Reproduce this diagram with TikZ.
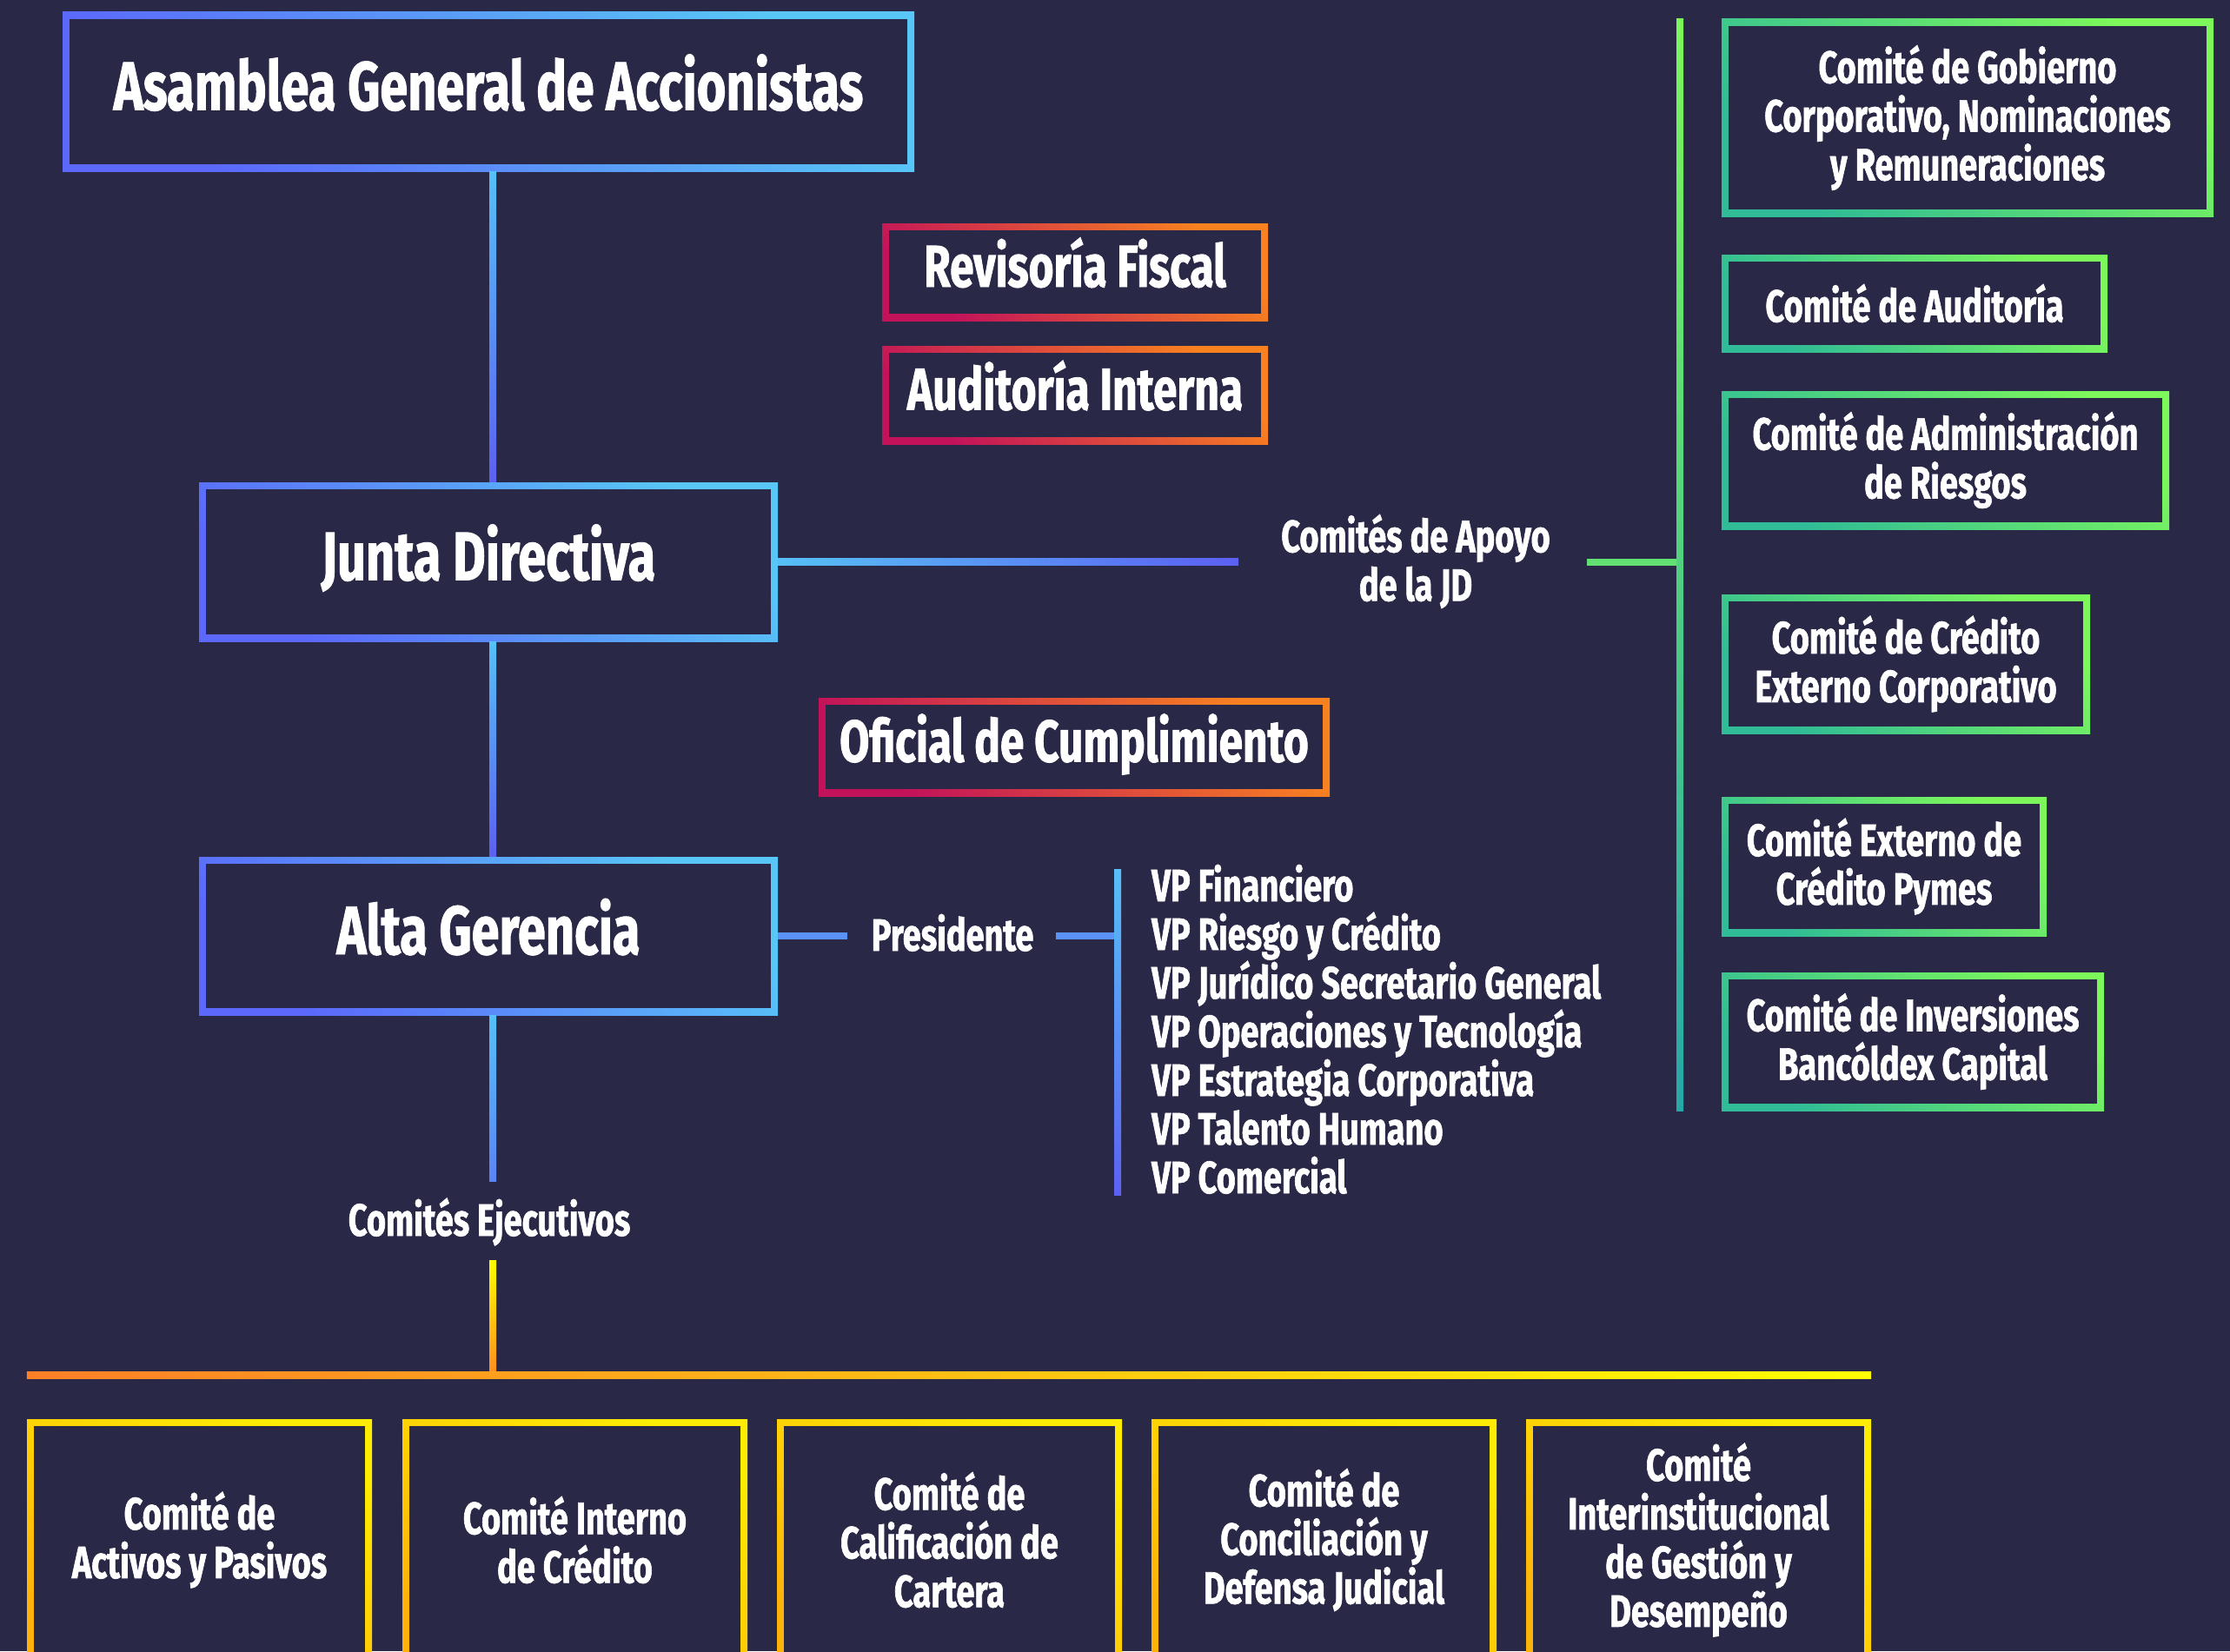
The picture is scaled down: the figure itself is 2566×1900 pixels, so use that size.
\documentclass[tikz,border=0pt]{standalone}
\usepackage{fontspec}
\setmainfont{Fira Sans}[FakeStretch=0.73,FakeBold=1.2]
\usetikzlibrary{calc}
\definecolor{bg}{RGB}{41,40,71}
\definecolor{blueL}{RGB}{91,104,250}
\definecolor{blueR}{RGB}{88,198,247}
\definecolor{lnLight}{RGB}{86,192,247}
\definecolor{lnDark}{RGB}{92,96,242}
\definecolor{lnMid}{RGB}{90,132,246}
\definecolor{pline}{RGB}{91,146,248}
\definecolor{redL}{RGB}{194,18,90}
\definecolor{redR}{RGB}{248,130,32}
\definecolor{greenL}{RGB}{48,188,150}
\definecolor{greenR}{RGB}{124,247,92}
\definecolor{gline}{RGB}{98,224,113}
\definecolor{gTop}{RGB}{124,247,90}
\definecolor{gBot}{RGB}{38,168,168}
\definecolor{yelO}{RGB}{255,178,10}
\definecolor{yelY}{RGB}{255,236,0}
\definecolor{hOr}{RGB}{255,127,39}
\definecolor{hYe}{RGB}{255,255,0}
\definecolor{vOr}{RGB}{255,140,32}
\newcommand\fntbig{\fontsize{79}{96}\selectfont\bfseries}
\newcommand\fntmed{\fontsize{68}{80}\selectfont\bfseries}
\newcommand\fntsmall{\fontsize{52}{56}\selectfont\bfseries}
\tikzset{
  frame/.style={rectangle, inner sep=0pt, align=center, text=white,
    path picture={\fill[bg] ($(path picture bounding box.south west)+(8pt,8pt)$) rectangle ($(path picture bounding box.north east)+(-8pt,-8pt)$);}},
  bluebox/.style={frame, top color=blueL, bottom color=blueR, shading angle=135, font=\fntbig, text height=58pt, text depth=16pt},
  redbox/.style={frame, top color=redL, bottom color=redR, shading angle=135, font=\fntmed, text height=50pt, text depth=16pt},
  greenbox/.style={frame, top color=greenL, bottom color=greenR, shading angle=135, font=\fntsmall},
  yelbox/.style={frame, top color=yelO, bottom color=yelY, shading angle=150, font=\fntsmall},
  lbl/.style={inner sep=0pt, align=center, text=white, font=\fntsmall},
}
\begin{document}
\begin{tikzpicture}[x=1pt,y=-1pt]
\fill[bg] (0,0) rectangle (2566,1900);
\useasboundingbox (0,0) rectangle (2566,1900);
\clip (0,0) rectangle (2566,1900);

% main chain
\node[bluebox, minimum width=980pt, minimum height=183pt] (asm) at (562,105.5) {Asamblea General de Accionistas};
\node[bluebox, minimum width=666pt, minimum height=183pt] (jd) at (562,646.5) {Junta Directiva};
\node[bluebox, minimum width=666pt, minimum height=182pt] (alta) at (562,1077) {Alta Gerencia};

% control boxes
\node[redbox, minimum width=444pt, minimum height=112pt] (rev) at (1237,313) {Revisoría Fiscal};
\node[redbox, minimum width=444pt, minimum height=113pt] (aud) at (1237,454.5) {Auditoría Interna};
\node[redbox, minimum width=588pt, minimum height=113pt] (ofi) at (1236,859.5) {Oficial de Cumplimiento};

% support committees
\node[greenbox, minimum width=566pt, minimum height=227pt] (g1) at (2264,135.5) {Comité de Gobierno\\Corporativo, Nominaciones\\y Remuneraciones};
\node[greenbox, minimum width=444pt, minimum height=112pt] (g2) at (2203,349) {Comité de Auditoría};
\node[greenbox, minimum width=515pt, minimum height=159pt] (g3) at (2238.5,529.5) {Comité de Administración\\de Riesgos};
\node[greenbox, minimum width=424pt, minimum height=160pt] (g4) at (2193,764) {Comité de Crédito\\Externo Corporativo};
\node[greenbox, minimum width=374pt, minimum height=160pt] (g5) at (2168,997) {Comité Externo de\\Crédito Pymes};
\node[greenbox, minimum width=440pt, minimum height=159pt] (g6) at (2201,1198.5) {Comité de Inversiones\\Bancóldex Capital};

% executive committees
\node[yelbox, minimum width=397pt, minimum height=278pt] (b1) at (229.5,1772) {Comité de\\Activos y Pasivos};
\node[yelbox, minimum width=397pt, minimum height=278pt] (b2) at (661.5,1772) {Comité Interno\\de Crédito};
\node[yelbox, minimum width=397pt, minimum height=278pt] (b3) at (1092.5,1772) {Comité de\\Calificación de\\Cartera};
\node[yelbox, minimum width=397pt, minimum height=278pt] (b4) at (1523.5,1772) {Comité de\\Conciliación y\\Defensa Judicial};
\node[yelbox, minimum width=397pt, minimum height=278pt] (b5) at (1954.5,1772) {Comité\\Interinstitucional\\de Gestión y\\Desempeño};

% labels
\node[lbl] (apoyo) at (1629,646) {Comités de Apoyo\\de la JD};
\node[lbl, anchor=base] (pres) at (1096,1094) {Presidente};
\node[lbl, anchor=base] (ejec) at (563,1422) {Comités Ejecutivos};
\foreach \t [count=\i from 0] in {VP Financiero, VP Riesgo y Crédito, VP Jurídico Secretario General, VP Operaciones y Tecnología, VP Estrategia Corporativa, VP Talento Humano, VP Comercial}
  \node[lbl, anchor=base west] (vp\i) at (1325,{1037+56*\i}) {\t};

% free ends
\coordinate (gtop) at (1933,22);
\coordinate (gbot) at (1933,1278);
\coordinate (vtop) at (1286,1000);
\coordinate (vbot) at (1286,1375);
\coordinate (hbar) at (0,1582);

% connectors
\shade[top color=lnLight, bottom color=lnDark] ($(asm.south)+(1pt,0pt)$) rectangle ($(jd.north)+(9pt,0pt)$);
\shade[top color=lnLight, bottom color=lnDark] ($(jd.south)+(1pt,0pt)$) rectangle ($(alta.north)+(9pt,0pt)$);
\shade[left color=lnLight, right color=lnDark] ($(jd.east)+(0pt,4pt)$) rectangle ($(apoyo.west |- jd.east)+(-49pt,-4pt)$);
\fill[gline] ($(apoyo.east |- jd.east)+(42pt,4pt)$) rectangle ($(gtop |- jd.east)+(0pt,-4pt)$);
\shade[top color=gTop, bottom color=gBot] ($(gtop)+(-4pt,0pt)$) rectangle ($(gbot)+(4pt,0pt)$);
\fill[pline] ($(alta.east)+(0pt,4pt)$) rectangle ($(pres.west |- alta.east)+(-27pt,-4pt)$);
\fill[pline] ($(pres.east |- alta.east)+(25pt,4pt)$) rectangle ($(vtop |- alta.east)+(0pt,-4pt)$);
\shade[top color=lnLight, bottom color=lnDark] ($(vtop)+(-4pt,0pt)$) rectangle ($(vbot)+(4pt,0pt)$);
\shade[top color=lnLight, bottom color=lnMid] ($(alta.south)+(1pt,0pt)$) rectangle ($(alta.south |- ejec.base)+(9pt,63pt)$);
\shade[top color=hYe, bottom color=vOr] ($(alta.south |- ejec.base)+(1pt,-28pt)$) rectangle ($(alta.south |- hbar)+(9pt,0pt)$);
\shade[left color=hOr, right color=hYe] ($(b1.west |- hbar)+(0pt,4pt)$) rectangle ($(b5.east |- hbar)+(0pt,-4pt)$);
\end{tikzpicture}
\end{document}
